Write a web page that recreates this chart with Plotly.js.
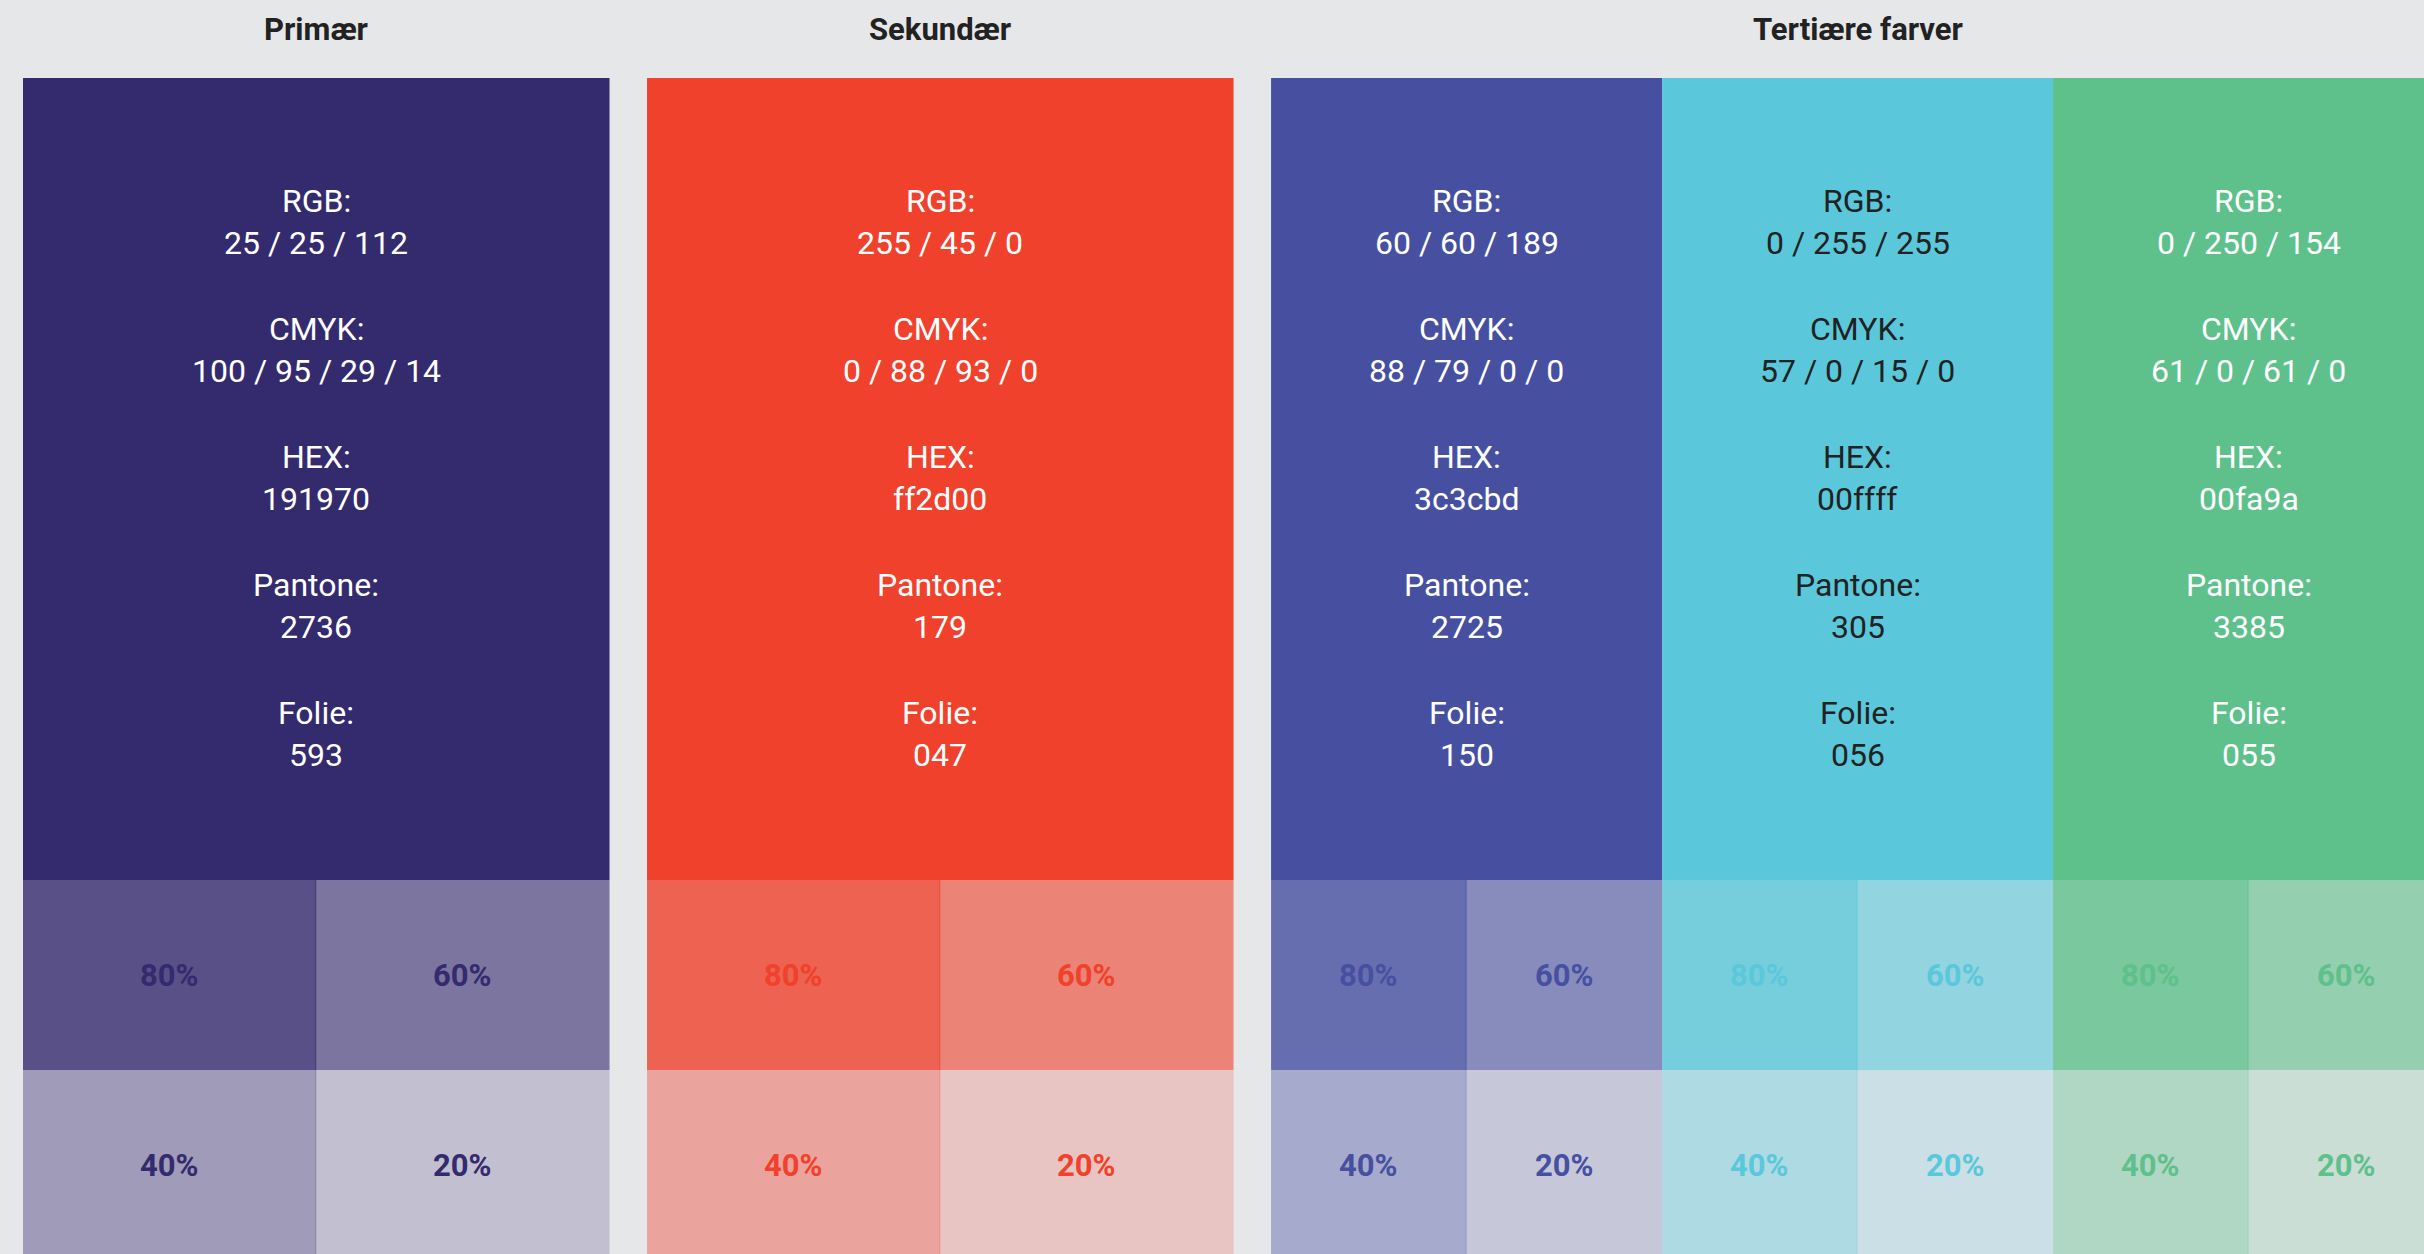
<!DOCTYPE html>
<html>
<head>
<meta charset="utf-8">
<script src="https://cdn.plot.ly/plotly-3.0.1.min.js"></script>
<style>
  html, body { margin: 0; padding: 0; background: #e6e7e9; }
  #chart { width: 2424px; height: 1254px; }
</style>
</head>
<body>
<div id="chart"></div>
<script>
// ---------- data ----------
const groupTitles = ["Primær", "Sekundær", "Tertiære farver"];
const swatchGroup = [0, 1, 2, 2, 2];
const swatchColors = ["#342a6e", "#ef412b", "#4750a0", "#5ac8da", "#5ec08b"];
const swatchTextColors = ["#ffffff", "#ffffff", "#ffffff", "#222222", "#ffffff"];
const infoLabels = ["RGB:", "CMYK:", "HEX:", "Pantone:", "Folie:"];
const rgbValues = ["25 / 25 / 112", "255 / 45 / 0", "60 / 60 / 189", "0 / 255 / 255", "0 / 250 / 154"];
const cmykValues = ["100 / 95 / 29 / 14", "0 / 88 / 93 / 0", "88 / 79 / 0 / 0", "57 / 0 / 15 / 0", "61 / 0 / 61 / 0"];
const hexValues = ["191970", "ff2d00", "3c3cbd", "00ffff", "00fa9a"];
const pantoneValues = ["2736", "179", "2725", "305", "3385"];
const folieValues = ["593", "047", "150", "056", "055"];
const tintPercents = [80, 60, 40, 20];
const tintLabels = ["80%", "60%", "40%", "20%"];

// ---------- layout geometry (in axis units) ----------
const W = 2424, H = 1254;
const PX = 391;            // pixels per x unit
const LEFT = 23;           // left margin in px
const GAP = 0.096;         // gap between groups
const groupSwatchWidth = [1.5, 1.5, 1];
const TOP = 78, MAIN_BOTTOM = 880, TINT_H = 190;

// compute swatch positions
const swatchStart = [], swatchWidth = [];
let cur = 0, prevGroup = swatchGroup[0];
swatchGroup.forEach((g, i) => {
  if (g !== prevGroup) { cur += GAP; prevGroup = g; }
  swatchStart.push(cur);
  swatchWidth.push(groupSwatchWidth[g]);
  cur += groupSwatchWidth[g];
});

// main bars
const mainTrace = {
  type: "bar",
  x: swatchStart.map((s, i) => s + swatchWidth[i] / 2),
  y: swatchStart.map(() => MAIN_BOTTOM - TOP),
  base: swatchStart.map(() => TOP),
  width: swatchWidth,
  marker: { color: swatchColors, line: { width: 0 } },
  hoverinfo: "skip"
};

// tint bars (left and right halves overlap slightly at the inner split only)
const tx = [], ty = [], tb = [], tw = [], tc = [], to = [];
const annotations = [];
const overlap = 1 / PX;
swatchColors.forEach((col, i) => {
  tintPercents.forEach((p, k) => {
    const c = k % 2, r = Math.floor(k / 2);
    const half = swatchWidth[i] / 2;
    const x0 = swatchStart[i] + c * half - (c === 1 ? overlap : 0);
    const x1 = swatchStart[i] + (c + 1) * half;
    tx.push((x0 + x1) / 2);
    tw.push(x1 - x0);
    tb.push(MAIN_BOTTOM + r * TINT_H);
    ty.push(TINT_H);
    tc.push(col);
    to.push(p / 100);
    annotations.push({
      x: swatchStart[i] + (c + 0.5) * half, y: MAIN_BOTTOM + r * TINT_H + TINT_H / 2,
      xref: "x", yref: "y",
      text: "<b>" + tintLabels[k] + "</b>", showarrow: false,
      xanchor: "center", yanchor: "middle",
      font: { family: "Roboto, sans-serif", size: 31, color: col }
    });
  });
});
const tintTrace = {
  type: "bar", x: tx, y: ty, base: tb, width: tw,
  marker: { color: tc, opacity: to, line: { width: 0 } },
  hoverinfo: "skip"
};

// info text
const valueArrays = [rgbValues, cmykValues, hexValues, pantoneValues, folieValues];
const LABEL_Y0 = 201, BLOCK_STEP = 128, LINE_STEP = 42;
swatchColors.forEach((col, i) => {
  const cx = swatchStart[i] + swatchWidth[i] / 2;
  infoLabels.forEach((lab, j) => {
    const y0 = LABEL_Y0 + j * BLOCK_STEP;
    annotations.push({
      x: cx, y: y0, xref: "x", yref: "y", text: lab, showarrow: false,
      xanchor: "center", yanchor: "middle",
      font: { family: "Roboto, sans-serif", size: 32, color: swatchTextColors[i] }
    });
    annotations.push({
      x: cx, y: y0 + LINE_STEP, xref: "x", yref: "y", text: valueArrays[j][i], showarrow: false,
      xanchor: "center", yanchor: "middle",
      font: { family: "Roboto, sans-serif", size: 32, color: swatchTextColors[i] }
    });
  });
});

// group titles
groupTitles.forEach((t, g) => {
  const idx = swatchGroup.map((v, i) => v === g ? i : -1).filter(i => i >= 0);
  const s = swatchStart[idx[0]];
  const e = swatchStart[idx[idx.length - 1]] + swatchWidth[idx[idx.length - 1]];
  annotations.push({
    x: (s + e) / 2, y: 29, xref: "x", yref: "y", text: "<b>" + t + "</b>", showarrow: false,
    xanchor: "center", yanchor: "middle",
    font: { family: "Roboto, sans-serif", size: 31, color: "#222222" }
  });
});

const layout = {
  width: W, height: H,
  margin: { l: 0, r: 0, t: 0, b: 0, pad: 0 },
  paper_bgcolor: "#e6e7e9", plot_bgcolor: "#e6e7e9",
  barmode: "overlay",
  showlegend: false,
  xaxis: { range: [-LEFT / PX, (W - LEFT) / PX], visible: false, fixedrange: true },
  yaxis: { range: [H, 0], visible: false, fixedrange: true },
  annotations: annotations
};

Plotly.newPlot("chart", [mainTrace, tintTrace], layout, { staticPlot: true, displayModeBar: false });
</script>
</body>
</html>
